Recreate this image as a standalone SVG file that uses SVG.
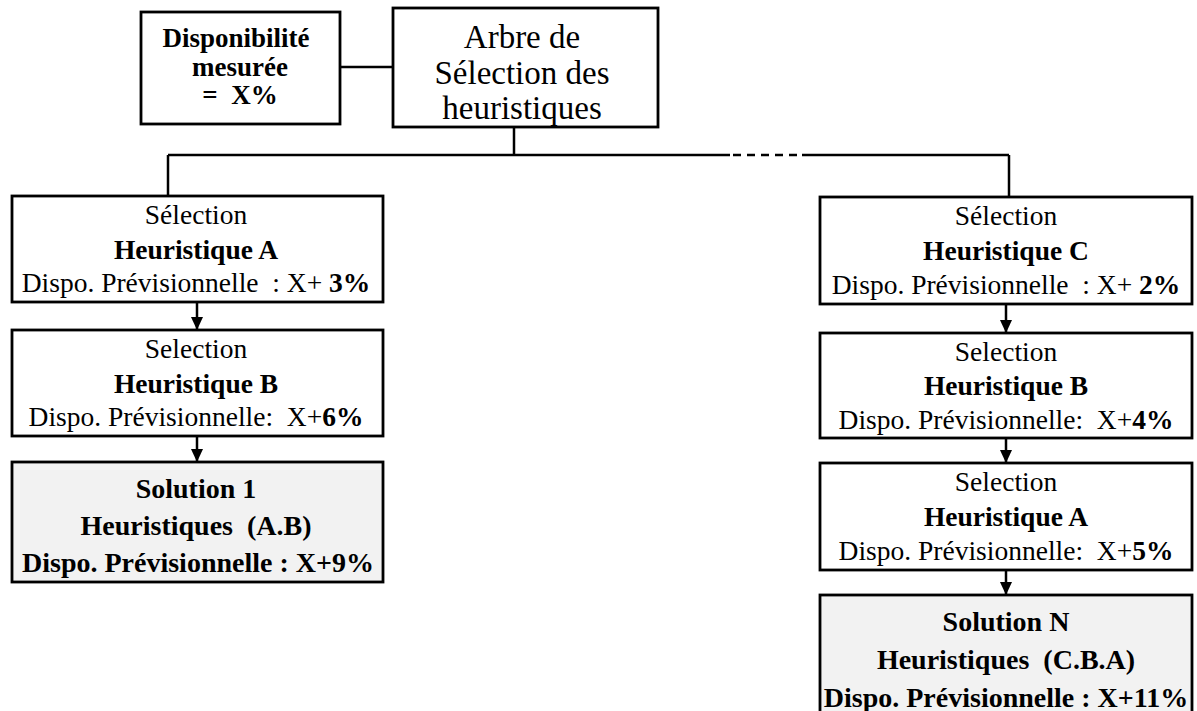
<svg xmlns="http://www.w3.org/2000/svg" width="1197" height="711" viewBox="0 0 1197 711">
<style>
.box{fill:#ffffff;stroke:#000;stroke-width:2.8}
.sol{fill:#f2f2f2;stroke:#000;stroke-width:2.8}
.ln{fill:none;stroke:#000;stroke-width:2.5}
.dash{fill:none;stroke:#000;stroke-width:2.5;stroke-dasharray:8 6}
text{font-family:"Liberation Serif","Times New Roman",serif;fill:#000;text-anchor:middle;white-space:pre}
.t{font-size:27.5px}
.tb{font-size:27.5px;font-weight:bold}
.big{font-size:33px}
.db{font-size:27px;font-weight:bold}
.sb{font-size:28px;font-weight:bold}
</style>
<defs>
<marker id="arr" markerWidth="12" markerHeight="13" refX="13" refY="6" orient="auto" markerUnits="userSpaceOnUse">
<path d="M0,0 L13,6 L0,12 Z" fill="#000"/>
</marker>
</defs>
<g id="connectors">
<line class="ln" x1="340" y1="67" x2="393" y2="67"/>
<line class="ln" x1="514" y1="127" x2="514" y2="155"/>
<line class="ln" x1="168" y1="155" x2="730" y2="155"/>
<line class="dash" x1="733" y1="155" x2="800" y2="155"/>
<line class="ln" x1="802" y1="155" x2="1009" y2="155"/>
<line class="ln" x1="168" y1="155" x2="168" y2="196"/>
<line class="ln" x1="1009" y1="155" x2="1009" y2="197"/>
<line class="ln" x1="197" y1="302" x2="197" y2="330" marker-end="url(#arr)"/>
<line class="ln" x1="197" y1="436" x2="197" y2="462" marker-end="url(#arr)"/>
<line class="ln" x1="1006" y1="304" x2="1006" y2="333" marker-end="url(#arr)"/>
<line class="ln" x1="1006" y1="438" x2="1006" y2="463" marker-end="url(#arr)"/>
<line class="ln" x1="1006" y1="570" x2="1006" y2="595" marker-end="url(#arr)"/>
</g>
<g id="dispo">
<rect class="box" x="141" y="12" width="199" height="112"/>
<text class="db" x="236" y="47">Disponibilité</text>
<text class="db" x="240" y="76">mesurée</text>
<text class="db" x="240" y="104">=  X%</text>
</g>
<g id="arbre">
<rect class="box" x="393" y="8" width="265" height="119"/>
<text class="big" x="522" y="48">Arbre de</text>
<text class="big" x="522" y="84">Sélection des</text>
<text class="big" x="522" y="119">heuristiques</text>
</g>
<g id="selA-left">
<rect class="box" x="12" y="196" width="371" height="106"/>
<text class="t" x="196" y="224">Sélection</text>
<text class="tb" x="196" y="259">Heuristique A</text>
<text class="t" x="196" y="292">Dispo. Prévisionnelle  : X+ <tspan font-weight="bold">3%</tspan></text>
</g>
<g id="selB-left">
<rect class="box" x="12" y="330" width="371" height="106"/>
<text class="t" x="196" y="358">Selection</text>
<text class="tb" x="196" y="393">Heuristique B</text>
<text class="t" x="196" y="426">Dispo. Prévisionnelle:  X+<tspan font-weight="bold">6%</tspan></text>
</g>
<g id="solution1">
<rect class="sol" x="12" y="462" width="371" height="120"/>
<text class="sb" x="196" y="498">Solution 1</text>
<text class="sb" x="196" y="535">Heuristiques  (A.B)</text>
<text class="sb" x="198" y="572">Dispo. Prévisionnelle : X+9%</text>
</g>
<g id="selC-right">
<rect class="box" x="820" y="197" width="372" height="107"/>
<text class="t" x="1006" y="225">Sélection</text>
<text class="tb" x="1006" y="260">Heuristique C</text>
<text class="t" x="1006" y="294">Dispo. Prévisionnelle  : X+ <tspan font-weight="bold">2%</tspan></text>
</g>
<g id="selB-right">
<rect class="box" x="820" y="333" width="372" height="105"/>
<text class="t" x="1006" y="361">Selection</text>
<text class="tb" x="1006" y="395">Heuristique B</text>
<text class="t" x="1006" y="429">Dispo. Prévisionnelle:  X+<tspan font-weight="bold">4%</tspan></text>
</g>
<g id="selA-right">
<rect class="box" x="820" y="463" width="372" height="107"/>
<text class="t" x="1006" y="491">Selection</text>
<text class="tb" x="1006" y="526">Heuristique A</text>
<text class="t" x="1006" y="560">Dispo. Prévisionnelle:  X+<tspan font-weight="bold">5%</tspan></text>
</g>
<g id="solutionN">
<rect class="sol" x="820" y="595" width="372" height="125"/>
<text class="sb" x="1006" y="631">Solution N</text>
<text class="sb" x="1006" y="669">Heuristiques  (C.B.A)</text>
<text class="sb" x="1006" y="707">Dispo. Prévisionnelle : X+11%</text>
</g>
</svg>
